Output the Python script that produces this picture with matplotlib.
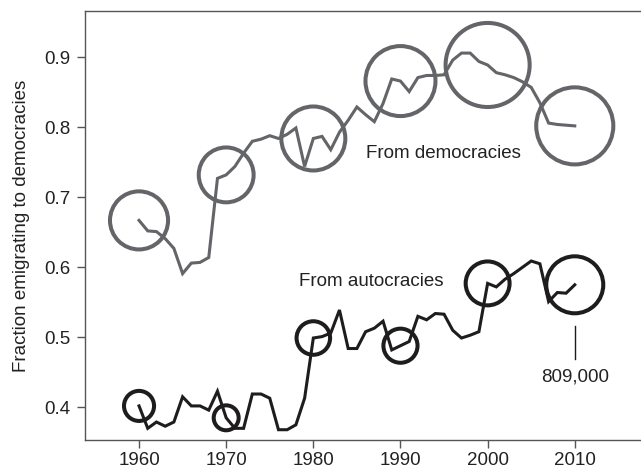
import matplotlib
matplotlib.use("Agg")
import matplotlib.pyplot as plt
import numpy as np

# Yearly share of emigrants heading to democracies
years = list(range(1960, 2011))

from_democracies = [
    0.667, 0.652, 0.651, 0.641, 0.627, 0.591, 0.606, 0.607, 0.614, 0.727,
    0.732, 0.744, 0.763, 0.780, 0.783, 0.788, 0.784, 0.790, 0.799, 0.744,
    0.784, 0.787, 0.768, 0.793, 0.810, 0.829, 0.818, 0.808, 0.834, 0.869,
    0.866, 0.851, 0.871, 0.874, 0.874, 0.875, 0.896, 0.906, 0.906, 0.894,
    0.889, 0.878, 0.875, 0.871, 0.865, 0.857, 0.835, 0.806, 0.804, 0.803,
    0.802,
]

from_autocracies = [
    0.402, 0.370, 0.379, 0.373, 0.379, 0.415, 0.402, 0.402, 0.396, 0.423,
    0.385, 0.370, 0.370, 0.419, 0.419, 0.413, 0.368, 0.368, 0.375, 0.413,
    0.499, 0.501, 0.506, 0.539, 0.484, 0.484, 0.508, 0.513, 0.523, 0.482,
    0.488, 0.494, 0.530, 0.525, 0.534, 0.533, 0.510, 0.499, 0.503, 0.508,
    0.577, 0.572, 0.583, 0.591, 0.600, 0.609, 0.605, 0.551, 0.564, 0.563,
    0.575,
]

# Total emigrants in the census years (circle area)
census_years = [1960, 1970, 1980, 1990, 2000, 2010]
total_democracies = [840000, 750000, 1020000, 1220000, 1760000, 1480000]
total_autocracies = [225000, 155000, 280000, 290000, 480000, 809000]

gray = "#646568"
black = "#1e1c1d"
text_color = "#222222"
fs = 13.5

plt.rcParams["font.family"] = ["Liberation Sans", "DejaVu Sans"]

fig = plt.figure(figsize=(6.41, 4.70), dpi=100)
ax = fig.add_axes([0.1326, 0.0638, 0.8674, 0.9128])

ax.plot(years, from_democracies, color=gray, lw=2.2, solid_joinstyle="miter")
ax.plot(years, from_autocracies, color=black, lw=2.2, solid_joinstyle="miter")

# circle area proportional to number of emigrants
area_per_person = 1684 / 809000


def census_values(series):
    return [series[years.index(y)] for y in census_years]


ax.scatter(census_years, census_values(from_democracies),
           s=np.array(total_democracies) * area_per_person,
           facecolors="none", edgecolors=gray, linewidths=2.9, zorder=3)
ax.scatter(census_years, census_values(from_autocracies),
           s=np.array(total_autocracies) * area_per_person,
           facecolors="none", edgecolors=black, linewidths=2.9, zorder=3)

ax.text(1986.0, 0.756, "From democracies", fontsize=fs, color=text_color,
        ha="left", va="baseline")
ax.text(1978.4, 0.574, "From autocracies", fontsize=fs, color=text_color,
        ha="left", va="baseline")

# label the most recent autocracy circle
ax.plot([2010, 2010], [0.516, 0.469], color=black, lw=1.0)
ax.text(2010, 0.4366, f"{total_autocracies[-1]:,}", fontsize=fs,
        color=text_color, ha="center", va="baseline")

ax.set_xlim(1953.8, 2017.6)
ax.set_ylim(0.3533, 0.9661)
ax.set_xticks(census_years)
ax.set_yticks([0.4, 0.5, 0.6, 0.7, 0.8, 0.9])
ax.set_yticklabels(["0.4", "0.5", "0.6", "0.7", "0.8", "0.9"])

ax.spines["right"].set_visible(False)
for side in ["left", "top", "bottom"]:
    ax.spines[side].set_color("#555555")
    ax.spines[side].set_linewidth(1.0)

ax.tick_params(direction="out", length=5.5, width=1.0, color="#555555",
               labelsize=fs, labelcolor=text_color, pad=5)
ax.tick_params(axis="x", pad=3)
ax.set_ylabel("Fraction emigrating to democracies", fontsize=fs,
              color=text_color, labelpad=10)

fig.savefig("out.png", dpi=100)
